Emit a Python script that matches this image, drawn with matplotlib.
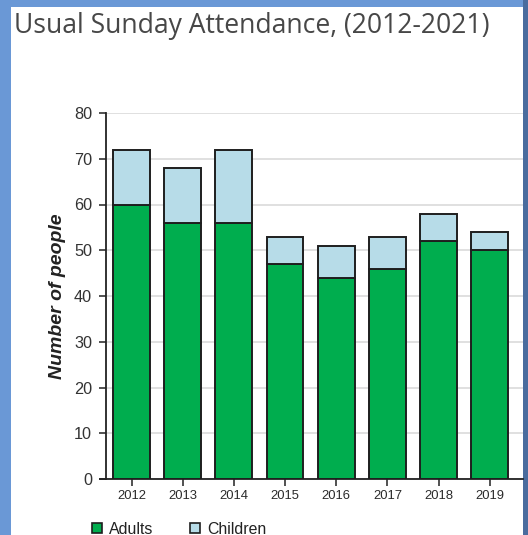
import matplotlib
matplotlib.use("Agg")
import matplotlib.pyplot as plt
from matplotlib.patches import Rectangle

years = ["2012", "2013", "2014", "2015", "2016", "2017", "2018", "2019"]
adults = [60, 56, 56, 47, 44, 46, 52, 50]
children = [12, 12, 16, 6, 7, 7, 6, 4]
yticks = [0, 10, 20, 30, 40, 50, 60, 70, 80]

W, H = 528, 535
fig = plt.figure(figsize=(W / 100, H / 100), dpi=100, facecolor="#6a98d6")

def px(x0, y0, x1, y1):
    # image pixel coords (top-down) -> figure fraction rect
    return [x0 / W, 1 - y1 / H, (x1 - x0) / W, (y1 - y0) / H]

# white panel
r = px(11, 7, 523, 535)
fig.patches.append(Rectangle((r[0], r[1]), r[2], r[3], transform=fig.transFigure,
                             facecolor="white", edgecolor="none", zorder=-10))
r = px(523, 0, 528, 535)
fig.patches.append(Rectangle((r[0], r[1]), r[2], r[3], transform=fig.transFigure,
                             facecolor="#4a6c9e", edgecolor="none", zorder=-10))

fig.text(14 / W, 1 - 26 / H, "Usual Sunday Attendance, (2012-2021)", family="Open Sans",
         fontsize=19.1, color="#474747", va="center", ha="left")

ax = fig.add_axes(px(106, 113, 523, 479))
ax.set_facecolor("none")
x = list(range(len(years)))
ax.bar(x, adults, width=0.72, color="#00ad4e", edgecolor="#1e1e1e", linewidth=1.4, zorder=3)
ax.bar(x, children, width=0.72, bottom=adults, color="#b7dce8", edgecolor="#1e1e1e",
       linewidth=1.4, zorder=3)
ax.set_xlim(-0.5, 7.65)
ax.set_ylim(0, 80)
ax.set_yticks(yticks)
ax.set_xticks(x)
ax.set_xticklabels(years, family="Liberation Sans", fontsize=9.4, color="#2a2a2a")
for t in ax.get_yticklabels():
    t.set_family("Liberation Sans")
    t.set_fontsize(11.7)
    t.set_color("#333333")
ax.grid(axis="y", color="#dddddd", linewidth=1.3, zorder=0)
ax.tick_params(axis="y", length=5, width=1.1, color="#222222", pad=5)
ax.tick_params(axis="x", length=5, width=1.1, color="#222222", pad=3)
for s in ["top", "right"]:
    ax.spines[s].set_visible(False)
for s in ["left", "bottom"]:
    ax.spines[s].set_color("#222222")
    ax.spines[s].set_linewidth(1.3)
ax.spines["bottom"].set_bounds(-0.62, 7.65)
ax.set_ylabel("Number of people", family="Liberation Sans", fontsize=14, fontweight="bold",
              fontstyle="italic", color="#222222", labelpad=6)

# legend
for (x0, lab, colr) in [(92, "Adults", "#00ad4e"), (190, "Children", "#b7dce8")]:
    r = px(x0, 523, x0 + 10, 533)
    fig.patches.append(Rectangle((r[0], r[1]), r[2], r[3], transform=fig.transFigure,
                                 facecolor=colr, edgecolor="#1e1e1e", linewidth=1.2, zorder=2))
    fig.text((x0 + 17) / W, 1 - 529 / H, lab, family="Liberation Sans", fontsize=11.4,
             color="#222222", va="center", ha="left")

fig.savefig("out.png", dpi=100, facecolor=fig.get_facecolor())
